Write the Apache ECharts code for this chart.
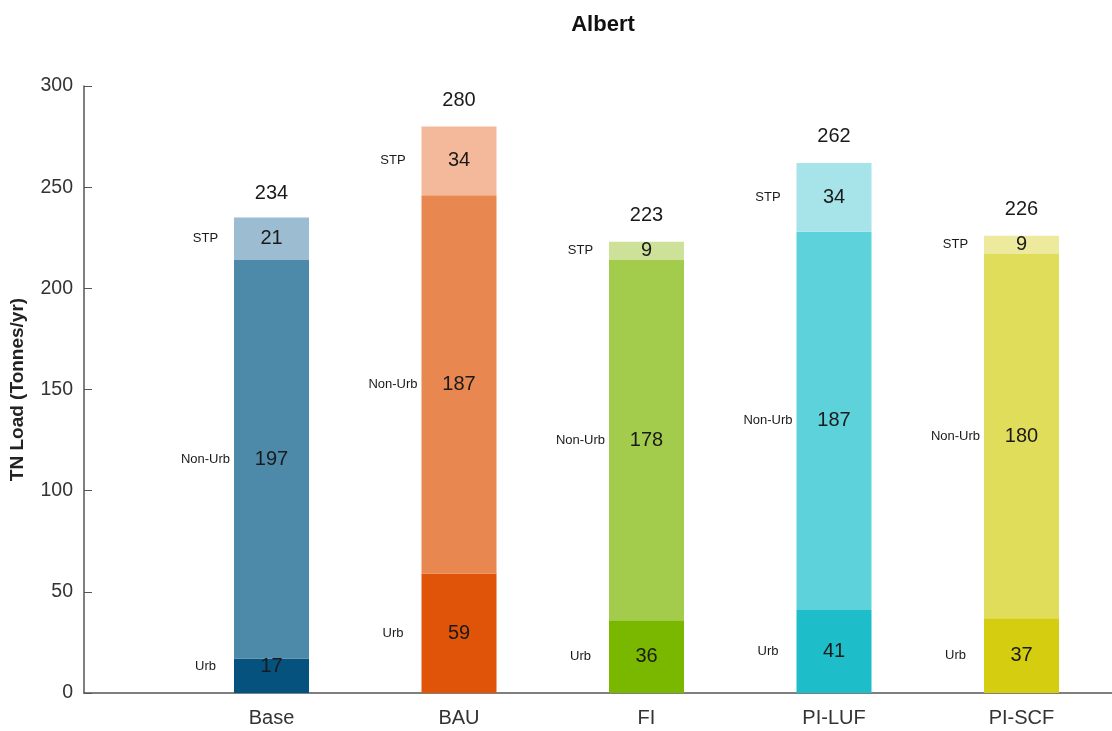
<!DOCTYPE html>
<html>
<head>
<meta charset="utf-8">
<script src="https://cdn.jsdelivr.net/npm/echarts@6/dist/echarts.min.js"></script>
<style>
html,body{margin:0;padding:0;background:#fff;}
#chart{width:1112px;height:731px;}
</style>
</head>
<body>
<div id="chart"></div>
<script>
const categories = ['Base', 'BAU', 'FI', 'PI-LUF', 'PI-SCF'];
const segmentNames = ['Urb', 'Non-Urb', 'STP'];
const urb = [17, 59, 36, 41, 37];
const nonUrb = [197, 187, 178, 187, 180];
const stp = [21, 34, 9, 34, 9];
const totals = [234, 280, 223, 262, 226];
const yTicks = [0, 50, 100, 150, 200, 250, 300];

const colors = {
  'Urb':     ['#05527f', '#e0540a', '#7ab800', '#1dbdc9', '#d5cd10'],
  'Non-Urb': ['#4d89a9', '#e8874f', '#a3cb4c', '#5dd2da', '#e0dd5a'],
  'STP':     ['#9bbcd1', '#f3b99a', '#cde199', '#a6e4ea', '#ede99d']
};

const segValues = [urb, nonUrb, stp];
const FONT = 'Arial, Liberation Sans, sans-serif';
// leading empty slot puts the first bar one step right of the y axis
const axisCats = [''].concat(categories);
const pad = arr => [null].concat(arr);

const series = [];
segmentNames.forEach((name, si) => {
  const vals = segValues[si];
  series.push({
    name: name,
    type: 'bar',
    stack: 'a',
    barWidth: 75,
    barGap: '-100%',
    silent: true,
    data: pad(vals.map((v, i) => {
      const item = { value: v, itemStyle: { color: colors[name][i] } };
      if (name === 'Urb' && i === 0) item.label = { offset: [0, -9] };
      return item;
    })),
    label: {
      show: true,
      position: 'inside',
      fontSize: 20,
      fontFamily: FONT,
      color: '#1a1a1a',
      formatter: p => p.value
    }
  });
});
segmentNames.forEach((name, si) => {
  const vals = segValues[si];
  series.push({
    name: name + '-side',
    type: 'bar',
    stack: 'b',
    barWidth: 75,
    barGap: '-100%',
    silent: true,
    itemStyle: { color: 'rgba(0,0,0,0)' },
    data: pad(vals.map((v, i) => {
      const item = { value: v };
      if (name === 'Urb' && i === 0) item.label = { offset: [-66, -9] };
      return item;
    })),
    label: {
      show: true,
      position: 'inside',
      offset: [-66, 0],
      fontSize: 13,
      fontFamily: FONT,
      color: '#1a1a1a',
      formatter: () => name
    }
  });
});
series.push({
  name: 'Total',
  type: 'bar',
  stack: 'c',
  barWidth: 75,
  barGap: '-100%',
  silent: true,
  itemStyle: { color: 'rgba(0,0,0,0)' },
  data: pad(totals),
  label: {
    show: true,
    position: 'top',
    distance: 16,
    fontSize: 20,
    fontFamily: FONT,
    color: '#1a1a1a',
    formatter: p => p.value
  }
});

const chart = echarts.init(document.getElementById('chart'), null, { renderer: 'canvas' });
chart.setOption({
  backgroundColor: '#ffffff',
  animation: false,
  title: {
    text: 'Albert',
    left: 598,
    top: 9,
    textAlign: 'center',
    textStyle: { fontSize: 22, fontWeight: 'bold', color: '#111', fontFamily: FONT }
  },
  grid: [
    { left: 84, top: 86, height: 607, width: 937.5, containLabel: false },
    { left: 84, top: 86, height: 607, right: 0, containLabel: false }
  ],
  xAxis: [
    {
      gridIndex: 0,
      type: 'category',
      data: axisCats,
      boundaryGap: false,
      axisLine: { show: false },
      axisTick: { show: false },
      axisLabel: { interval: 0, fontSize: 20, color: '#333', margin: 15, fontFamily: FONT },
      splitLine: { show: false }
    },
    {
      gridIndex: 1,
      type: 'value',
      min: 0,
      max: 1,
      axisLine: { show: true, onZero: false, lineStyle: { color: '#555', width: 1.5 } },
      axisTick: { show: false },
      axisLabel: { show: false },
      splitLine: { show: false }
    }
  ],
  yAxis: [
    {
      gridIndex: 0,
      type: 'value',
      min: yTicks[0],
      max: yTicks[yTicks.length - 1],
      interval: yTicks[1] - yTicks[0],
      name: 'TN Load (Tonnes/yr)',
      nameLocation: 'middle',
      nameGap: 57,
      nameTextStyle: { fontSize: 19, fontWeight: 'bold', color: '#222', fontFamily: FONT },
      axisLine: { show: true, lineStyle: { color: '#555', width: 1.5 } },
      axisTick: { show: true, inside: true, length: 8, lineStyle: { color: '#555' } },
      axisLabel: { fontSize: 19.5, color: '#333', margin: 11, fontFamily: FONT },
      splitLine: { show: false }
    },
    {
      gridIndex: 1,
      type: 'value',
      min: 0,
      max: 1,
      show: false
    }
  ],
  series: series
});
</script>
</body>
</html>
